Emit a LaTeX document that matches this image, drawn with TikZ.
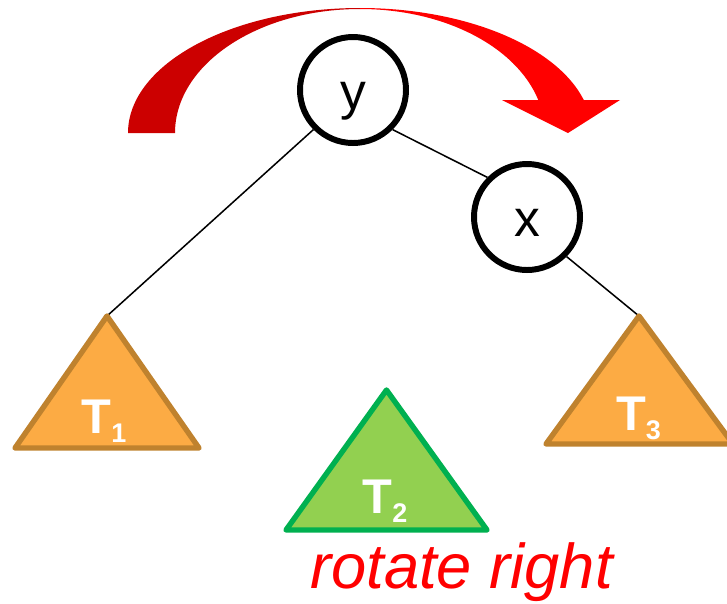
\documentclass[tikz,border=0pt]{standalone}
\usepackage{fontspec}
\setmainfont{Liberation Sans}
\definecolor{arrowdark}{HTML}{CC0000}
\definecolor{arrowred}{HTML}{FF0000}
\definecolor{treeorange}{HTML}{FCAB44}
\definecolor{treebrown}{HTML}{BF822E}
\definecolor{treegreen}{HTML}{92D050}
\definecolor{treegreenline}{HTML}{00B050}
\tikzset{
  keynode/.style={draw, circle, line width=5.1pt, minimum size=3.18cm, inner sep=0pt,
                  text height=34pt, text depth=0pt, font=\fontsize{44}{44}\selectfont},
  edge/.style={line width=1.3pt},
  orangetree/.style={fill=treeorange, draw=treebrown, line width=4.6pt, line join=round},
  greentree/.style={fill=treegreen, draw=treegreenline, line width=4.6pt, line join=round},
  treelabel/.style={anchor=base, inner sep=0pt, text=white, font=\bfseries\fontsize{41.6}{42}\selectfont}
}
\newcommand{\treesub}[1]{\lower7.7pt\hbox{\fontsize{23}{23}\selectfont #1}}

\begin{document}
\begin{tikzpicture}[x=0.03cm, y=-0.03cm]
    \useasboundingbox (0,0) rectangle (727,603);
    \clip (0,0) rectangle (727,603);

    \fill[arrowdark] (128,133) .. controls (128,64) and (231.9,8) .. (360,8)
        -- (360,9) .. controls (257.8,9) and (175,64.5) .. (175,133) -- cycle;
    \fill[arrowred] (360,8) .. controls (464.6,8) and (556.2,45.6) .. (583.8,100)
        -- (620,100) -- (568,133) -- (502,100) -- (538.3,100)
        .. controls (516.1,46.1) and (443.4,9) .. (360,9) -- cycle;

    \node[keynode] (y) at (353,90) {y};
    \node[keynode] (x) at (527,217) {x};

    \coordinate (t1top) at (107,316);
    \coordinate (t2top) at (386.5,390);
    \coordinate (t3top) at (639,316);

    \draw[edge] (y.south west) -- (t1top);
    \draw[edge] (y.south east) -- (x.north west);
    \draw[edge] (x.south east) -- (t3top);

    \draw[orangetree] (t1top) -- (199,448) -- (15,448) -- cycle;
    \draw[greentree] (t2top) -- (487,530) -- (286,530) -- cycle;
    \draw[orangetree] (t3top) -- (733,444) -- (546,444) -- cycle;

    \node[treelabel] (t1) at (104,433) {T\treesub{1}};
    \node[treelabel] (t2) at (385,513) {T\treesub{2}};
    \node[treelabel] (t3) at (638.5,430) {T\treesub{3}};

    \node[anchor=base, inner sep=0pt, text=arrowred, font=\itshape\fontsize{54}{54}\selectfont]
        (rot) at (461.5,588) {rotate right};
\end{tikzpicture}
\end{document}
